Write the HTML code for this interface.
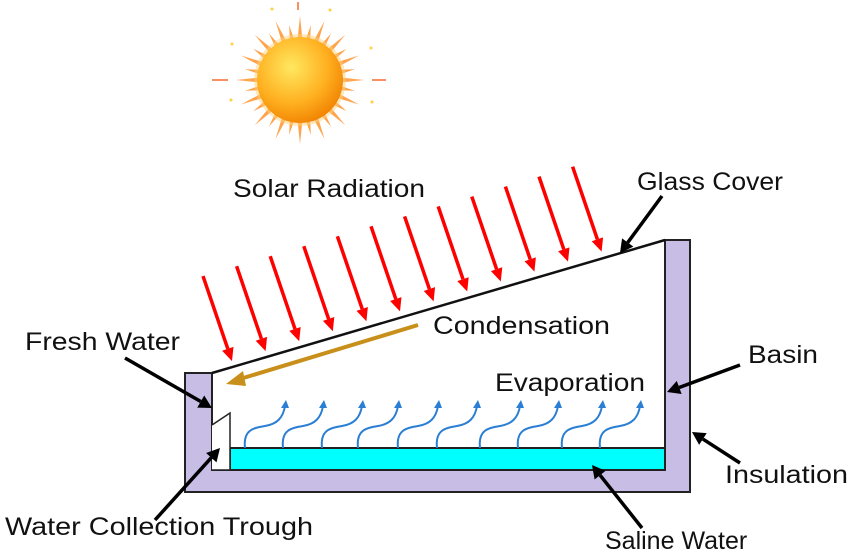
<!DOCTYPE html>
<html><head><meta charset="utf-8"><style>
html,body{margin:0;padding:0;background:#fff;}
svg{display:block}
text{font-family:"Liberation Sans",sans-serif;font-size:25px;fill:#111}
</style></head><body>
<svg width="850" height="553" viewBox="0 0 850 553" xmlns="http://www.w3.org/2000/svg">
<defs>
<radialGradient id="sg" cx="0.4" cy="0.35" r="0.7">
<stop offset="0" stop-color="#ffe860"/><stop offset="0.6" stop-color="#ffb020"/><stop offset="1" stop-color="#f08000"/>
</radialGradient>
</defs>
<g id="sun" transform="translate(300,80)">
<line x1="-88" y1="0" x2="-72" y2="0" stroke="#f89060" stroke-width="2"/>
<line x1="72" y1="0" x2="86" y2="0" stroke="#f89060" stroke-width="2"/>
<line x1="-2" y1="-78" x2="-2" y2="-70" stroke="#f89060" stroke-width="2"/>
<circle cx="-28" cy="-71" r="1.5" fill="#ffd040"/><circle cx="30" cy="-70" r="1.5" fill="#ffd040"/>
<circle cx="-68" cy="-36" r="1.5" fill="#ffd040"/><circle cx="71" cy="-32" r="1.5" fill="#ffd040"/>
<circle cx="-69" cy="20" r="1.5" fill="#ffd040"/><circle cx="72" cy="22" r="1.5" fill="#ffd040"/>
</g>
<path d="M185,373 L212,373 L212,470 L665,470 L665,240 L690,240 L690,492 L185,492 Z" fill="#c8bde4" stroke="#222" stroke-width="2"/>
<rect x="230" y="448" width="435" height="22" fill="#00ffff" stroke="#222" stroke-width="2"/>
<path d="M212,425 L230,413 L230,470 L212,470" fill="#fff" stroke="#222" stroke-width="1.5"/>
<line x1="212" y1="373" x2="665" y2="240" stroke="#111" stroke-width="2.5"/>
<g id="reds"></g>
<line x1="418" y1="325" x2="240" y2="379" stroke="#c8901a" stroke-width="4"/>
<polygon points="226,384 243,371 246,386" fill="#c8901a"/>
<g id="blues"></g>
<g id="blk"></g>
<text x="233" y="197" textLength="192" lengthAdjust="spacingAndGlyphs">Solar Radiation</text>
<text x="637" y="190" textLength="146" lengthAdjust="spacingAndGlyphs">Glass Cover</text>
<text x="433" y="334" textLength="177" lengthAdjust="spacingAndGlyphs">Condensation</text>
<text x="25" y="350" textLength="155" lengthAdjust="spacingAndGlyphs">Fresh Water</text>
<text x="748" y="363" textLength="70" lengthAdjust="spacingAndGlyphs">Basin</text>
<text x="495" y="391" textLength="150" lengthAdjust="spacingAndGlyphs">Evaporation</text>
<text x="725" y="483" textLength="123" lengthAdjust="spacingAndGlyphs">Insulation</text>
<text x="5" y="535" textLength="308" lengthAdjust="spacingAndGlyphs">Water Collection Trough</text>
<text x="605" y="549">Saline Water</text>
</svg>
<script>
var NS="http://www.w3.org/2000/svg";
function el(p,t,a){var e=document.createElementNS(NS,t);for(var k in a)e.setAttribute(k,a[k]);p.appendChild(e);return e;}
function arrow(g,x1,y1,x2,y2,col,w,hl,hw){
 var dx=x2-x1,dy=y2-y1,L=Math.sqrt(dx*dx+dy*dy),ux=dx/L,uy=dy/L;
 var bx=x2-ux*hl,by=y2-uy*hl;
 el(g,"line",{x1:x1,y1:y1,x2:bx,y2:by,stroke:col,"stroke-width":w});
 el(g,"polygon",{points:x2+","+y2+" "+(bx-uy*hw)+","+(by+ux*hw)+" "+(bx+uy*hw)+","+(by-ux*hw),fill:col});
}
var sun=document.getElementById("sun");
for(var k=0;k<32;k++){
 var a=k*Math.PI*2/32, r2=(k%2?56:64), r1=38, hw=0.07;
 var p=[[Math.cos(a-hw)*r1,Math.sin(a-hw)*r1],[Math.cos(a)*r2,Math.sin(a)*r2],[Math.cos(a+hw)*r1,Math.sin(a+hw)*r1]];
 el(sun,"polygon",{points:p.map(function(q){return q[0].toFixed(1)+","+q[1].toFixed(1)}).join(" "),fill:"#ff9a3a",opacity:0.9});
}
el(sun,"circle",{cx:0,cy:0,r:46,fill:"#ffd27a",opacity:0.5});
el(sun,"circle",{cx:0,cy:0,r:43,fill:"url(#sg)"});
var reds=document.getElementById("reds");
for(var i=0;i<12;i++){
 var sx=203+33.6*i, ex=sx+29;
 var ey=373-0.296*(ex-212)-6, sy=ey-85;
 arrow(reds,sx,sy,ex,ey,"#ff0000",3.5,13,6);
}
var blues=document.getElementById("blues");
var xs=[245,283,322,358,398,437,480,518,562,600];
xs.forEach(function(x){
 el(blues,"path",{d:"M"+x+",448 C"+(x-2)+",430 "+(x+8)+",428 "+(x+20)+",426 C"+(x+32)+",424 "+(x+38)+",418 "+(x+40)+",406",fill:"none",stroke:"#2a7fd4","stroke-width":2});
 el(blues,"polygon",{points:(x+41)+",400 "+(x+36)+",408 "+(x+44)+",408",fill:"#2a7fd4"});
});
var b=document.getElementById("blk");
arrow(b,662,196,620,253,"#000",3.5,13,7);
arrow(b,125,358,212,408,"#000",3.5,13,7);
arrow(b,155,520,220,448,"#000",3.5,13,7);
arrow(b,740,365,667,392,"#000",3.5,13,7);
arrow(b,740,463,692,432,"#000",3.5,13,7);
arrow(b,642,528,592,465,"#000",3.5,13,7);
</script>
</body></html>
